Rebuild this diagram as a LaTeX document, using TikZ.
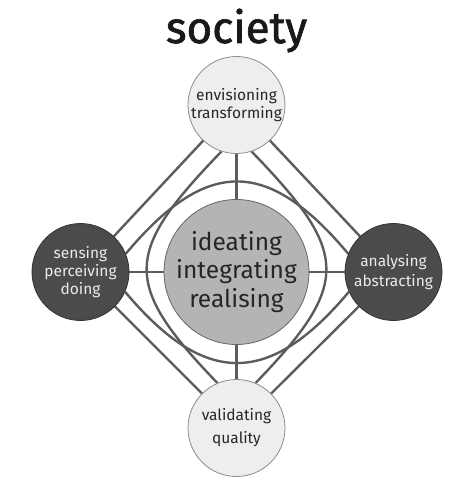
\documentclass[tikz,border=0pt]{standalone}
\usepackage{fontspec}
\setmainfont{Fira Sans}
\newfontfamily\titlefont{Fira Sans}[FakeBold=1.5]
\usepackage{tikz}
\usetikzlibrary{backgrounds}

\definecolor{lightfill}{HTML}{EEEEEE}
\definecolor{darkfill}{HTML}{4B4B4B}
\definecolor{midfill}{HTML}{B4B4B4}
\definecolor{linkgrey}{HTML}{5C5C5C}

\begin{document}
\begin{tikzpicture}[x=1pt, y=1pt,
  every node/.style={circle, draw, inner sep=0pt, align=center},
  outer/.style={minimum size=97pt, line width=0.8pt, font=\fontsize{15.5}{18}\selectfont},
  light/.style={outer, fill=lightfill, draw=black!45, text=black!85},
  dark/.style={outer, fill=darkfill, draw=black!80, text=white!92!black},
  link/.style={draw=linkgrey, line width=2.4pt}]
  \useasboundingbox (-236.5,-210) rectangle (237.5,272);
  \node (mid) [minimum size=142pt, fill=midfill, draw=black!60, line width=0.8pt, font=\fontsize{24.5}{28.5}\selectfont, text=black!85] at (0,0) {ideating\\integrating\\realising};
  \node (envis) [light] at (0,167) {envisioning\\transforming};
  \node (valid) [light] at (0,-156) {validating\\[5pt]quality};
  \node (sense) [dark] at (-156,0) {sensing\\perceiving\\doing};
  \node (analyse) [dark] at (157,0) {analysing\\[2pt]abstracting};
  \node (title) [draw=none, rectangle, anchor=base, font=\titlefont\fontsize{44}{50}\selectfont, text=black!90] at (0,229) {society};
  \begin{scope}[on background layer]
    % spokes
    \draw [link] (mid) -- (envis);
    \draw [link] (mid) -- (valid);
    \draw [link] (mid) -- (sense);
    \draw [link] (mid) -- (analyse);
    % diamond
    \draw [link] (envis) -- (sense);
    \draw [link] (envis) -- (analyse);
    \draw [link] (valid) -- (sense);
    \draw [link] (valid) -- (analyse);
    % arcs
    \draw [link] (sense.22) to[out=50, in=130, looseness=1.45] (analyse.158);
    \draw [link] (sense.-24) to[out=-50, in=-130, looseness=1.42] (analyse.-156);
    \draw [link] (envis.252) to[out=226, in=134, looseness=1.54] (valid.113);
    \draw [link] (envis.288) to[out=-46, in=46, looseness=1.54] (valid.67);
  \end{scope}
\end{tikzpicture}
\end{document}
